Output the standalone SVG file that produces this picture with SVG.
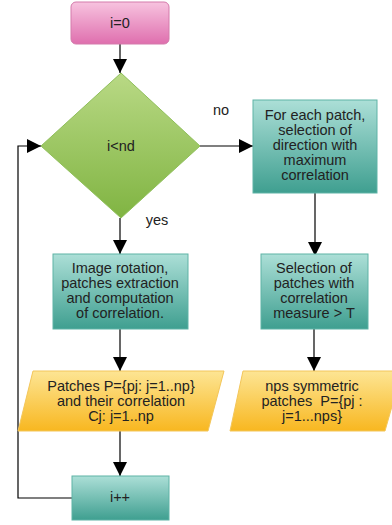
<svg xmlns="http://www.w3.org/2000/svg" width="392" height="525" viewBox="0 0 392 525">
<defs>
<linearGradient id="gPink" x1="0" y1="0" x2="0" y2="1"><stop offset="0" stop-color="#f7c3df"/><stop offset="1" stop-color="#df6fae"/></linearGradient>
<linearGradient id="gTeal" x1="0" y1="0" x2="0" y2="1"><stop offset="0" stop-color="#acdfd7"/><stop offset="1" stop-color="#3f9f90"/></linearGradient>
<linearGradient id="gGreen" x1="0" y1="0" x2="0" y2="1"><stop offset="0" stop-color="#b9d985"/><stop offset="1" stop-color="#80b442"/></linearGradient>
<linearGradient id="gYellow" x1="0" y1="0" x2="0" y2="1"><stop offset="0" stop-color="#fde594"/><stop offset="1" stop-color="#f8b720"/></linearGradient>
<marker id="arr" viewBox="0 0 10 10" refX="10" refY="5" markerWidth="14" markerHeight="14" markerUnits="userSpaceOnUse" orient="auto"><path d="M0,0 L10,5 L0,10 Z" fill="#000"/></marker>
<style>
text{font-family:"Liberation Sans",Arial,sans-serif;font-size:14.5px;fill:#222;text-anchor:middle}
.teal{fill:url(#gTeal);stroke:#5fb3a6;stroke-width:1}
.yel{fill:url(#gYellow);stroke:#f3c65a;stroke-width:1}
.con{fill:none;stroke:#000;stroke-width:1.2;marker-end:url(#arr)}
</style>
</defs>
<g id="connectors">
<path class="con" d="M120,44 L120,73"/>
<path class="con" d="M200,146 L253,146"/>
<path class="con" d="M120,218 L120,254"/>
<path class="con" d="M315,193 L315,256"/>
<path class="con" d="M120,329 L120,371"/>
<path class="con" d="M314,329 L314,371"/>
<path class="con" d="M120,431 L120,476"/>
<path class="con" d="M72,498 L18,498 L18,146 L41,146"/>
</g>
<g id="start"><rect x="71" y="2" width="98" height="42" rx="5" fill="url(#gPink)" stroke="#d47aab"/><text x="120" y="28">i=0</text></g>
<g id="decision"><polygon points="121,73 200,146 121,218 41,146" fill="url(#gGreen)" stroke="#8fbf5a"/><text x="121" y="151">i&lt;nd</text></g>
<g id="label-no"><text x="221" y="115">no</text></g>
<g id="label-yes"><text x="157" y="225">yes</text></g>
<g id="select-direction"><rect class="teal" x="253" y="100" width="124" height="93"/>
<text x="315" y="120">For each patch,</text><text x="315" y="135">selection of</text><text x="315" y="150">direction with</text><text x="315" y="165">maximum</text><text x="315" y="180">correlation</text></g>
<g id="rotation"><rect class="teal" x="53" y="254" width="135" height="75"/>
<text x="120" y="273">Image rotation,</text><text x="120" y="288">patches extraction</text><text x="120" y="303">and computation</text><text x="120" y="318">of correlation.</text></g>
<g id="select-patches"><rect class="teal" x="261" y="254" width="107" height="75"/>
<text x="314" y="273">Selection of</text><text x="314" y="288">patches with</text><text x="314" y="303">correlation</text><text x="314" y="318">measure &gt; T</text></g>
<g id="patches"><polygon class="yel" points="33,371 224,371 208,431 18,431"/>
<text x="121" y="391">Patches P={pj: j=1..np}</text><text x="121" y="406">and their correlation</text><text x="121" y="421">Cj: j=1..np</text></g>
<g id="symmetric"><polygon class="yel" points="243,371 402,371 385,431 230,431"/>
<text x="312" y="391">nps symmetric</text><text x="312" y="406">patches&#160; P={pj :</text><text x="312" y="421">j=1...nps}</text></g>
<g id="increment"><rect class="teal" x="72" y="476" width="97" height="44"/><text x="120" y="502">i++</text></g>
</svg>
